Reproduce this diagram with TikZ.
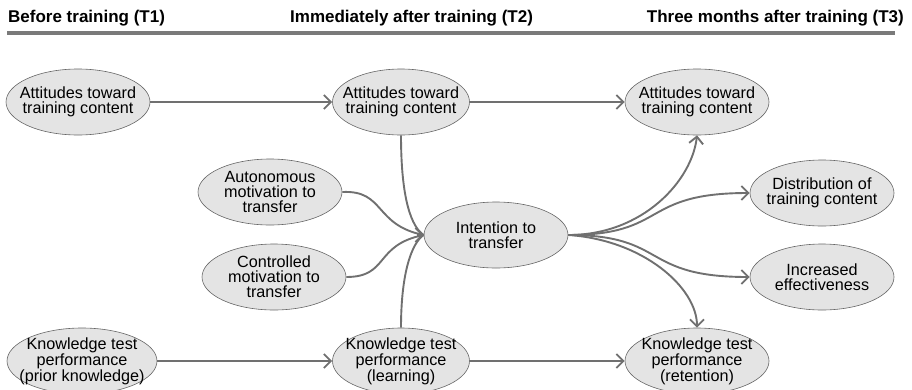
\documentclass[tikz,border=0pt]{standalone}
\usepackage{fontspec}
\setmainfont{Liberation Sans}
\usetikzlibrary{shapes.geometric,arrows.meta}
\definecolor{efill}{HTML}{E4E4E4}
\definecolor{edraw}{HTML}{666666}
\definecolor{conn}{HTML}{707070}
\definecolor{rule}{HTML}{7A7A7A}
\tikzset{
  ell/.style={ellipse, draw=edraw, fill=efill, line width=0.6pt, minimum width=144pt, minimum height=66pt, inner xsep=-30pt, inner ysep=-15pt, align=center, font=\fontsize{16.2}{15}\selectfont},
  conn/.style={draw=conn, line width=1.9pt},
  tip/.style={conn, -{Straight Barb[length=7pt,width=14pt,line width=1.9pt]}},
  hdr/.style={font=\fontsize{17}{20}\selectfont\bfseries, inner sep=0pt}
}
\begin{document}
\begin{tikzpicture}[x=1pt,y=-1pt]
\useasboundingbox (0,0) rectangle (912,389);
\node[hdr, anchor=base west] (h1) at (8,22) {Before training (T1)};
\node[hdr, anchor=base west] (h2) at (290,22) {Immediately after training (T2)};
\node[hdr, anchor=base east] (h3) at (904,22) {Three months after training (T3)};
\coordinate (r1) at (7,33);
\coordinate (r2) at (895,33);
\draw[rule, line width=4pt] (r1) -- (r2);

\node[ell] (a1) at (78,102) {Attitudes toward\\training content};
\node[ell, minimum width=137pt] (a2) at (401,102) {Attitudes toward\\training content};
\node[ell] (a3) at (697,102) {Attitudes toward\\training content};
\node[ell] (au) at (270,192) {Autonomous\\motivation to\\transfer};
\node[ell] (co) at (274,277) {Controlled\\motivation to\\transfer};
\node[ell] (in) at (496,235) {Intention to\\transfer};
\node[ell] (di) at (822,193) {Distribution of\\training content};
\node[ell] (ie) at (822,277) {Increased\\effectiveness};
\node[ell, minimum width=150pt] (k1) at (82,361) {Knowledge test\\performance\\(prior knowledge)};
\node[ell, minimum width=137pt] (k2) at (401,361) {Knowledge test\\performance\\(learning)};
\node[ell] (k3) at (697,361) {Knowledge test\\performance\\(retention)};

\draw[tip] (a1) -- (a2);
\draw[tip] (a2) -- (a3);
\draw[tip] (k1) -- (k2);
\draw[tip] (k2) -- (k3);

% into intention
\draw[conn] (a2.south) .. controls +(0,65) and +(-12,-8) .. (in.west);
\draw[conn] (k2.north) .. controls +(0,-55) and +(-12,8) .. (in.west);
\draw[conn] (au.east) .. controls +(43,-2) and +(-50,-10) .. (in.west);
\draw[conn] (co.east) .. controls +(43,0) and +(-50,10) .. (in.west);
\coordinate (inw) at ([xshift=-7pt]in.west);
\draw[tip] (inw) -- (in.west);

% out of intention
\draw[tip] (in.east) .. controls +(75,0) and +(-5,45) .. (a3.south);
\draw[tip] (in.east) .. controls +(100,0) and +(-110,0) .. (di.west);
\draw[tip] (in.east) .. controls +(100,0) and +(-110,0) .. (ie.west);
\draw[tip] (in.east) .. controls +(75,5) and +(0,-40) .. (k3.north);
\end{tikzpicture}
\end{document}
